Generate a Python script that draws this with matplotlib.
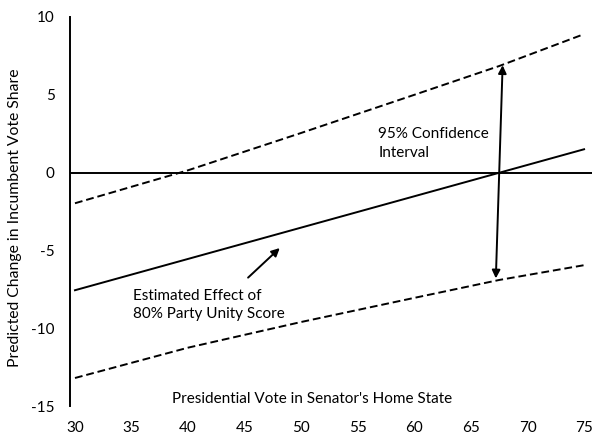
import matplotlib
matplotlib.use("Agg")
import matplotlib.pyplot as plt

# Presidential vote share (x) and predicted change in incumbent vote share (y)
pres_vote = [30, 75]
estimate = [-7.56, 1.5]

# 95% confidence band, read at several vote shares (the band flares outward)
band_x = [30, 40, 50, 60, 67.5, 75]
upper_ci = [-1.97, 0.15, 2.55, 5.0, 6.85, 8.9]
lower_ci = [-13.2, -11.25, -9.6, -8.05, -6.9, -5.95]

x_ticks = [30, 35, 40, 45, 50, 55, 60, 65, 70, 75]
y_ticks = [-15, -10, -5, 0, 5, 10]

# Confidence-interval arrow endpoints where the estimate crosses zero
ci_arrow_x = [67.2, 67.8]
ci_arrow_y = [-6.8, 6.9]

plt.rcParams['font.family'] = ['Lato', 'DejaVu Sans']
plt.rcParams['axes.unicode_minus'] = False

FS = 11

fig = plt.figure(figsize=(5.96, 4.38), dpi=100)
ax = fig.add_axes([70 / 596, 1 - 406 / 438, 522 / 596, 389 / 438])

ax.plot(pres_vote, estimate, color='black', lw=1.4)
ax.plot(band_x, upper_ci, color='black', lw=1.4, ls=(0, (4, 2)))
ax.plot(band_x, lower_ci, color='black', lw=1.4, ls=(0, (4, 2)))
ax.axhline(0, color='black', lw=1.4)

ax.annotate('', xy=(ci_arrow_x[1], ci_arrow_y[1]), xytext=(ci_arrow_x[0], ci_arrow_y[0]),
            arrowprops=dict(arrowstyle='<|-|>', color='black', lw=1.4,
                            mutation_scale=12, shrinkA=0, shrinkB=0))
ax.annotate('', xy=(48.1, -4.85), xytext=(45.3, -6.75),
            arrowprops=dict(arrowstyle='-|>', color='black', lw=1.4,
                            mutation_scale=12, shrinkA=0, shrinkB=0))

ax.text(56.8, 2.95, '95% Confidence\nInterval', fontsize=FS, ha='left', va='top',
        linespacing=1.45)
ax.text(35.1, -7.45, 'Estimated Effect of\n80% Party Unity Score', fontsize=FS,
        ha='left', va='top', linespacing=1.45)

ax.set_xlim(29.56, 75.7)
ax.set_ylim(-15, 10)
ax.set_xticks(x_ticks)
ax.set_yticks(y_ticks)
ax.tick_params(axis='both', length=0, labelsize=FS)
ax.tick_params(axis='x', pad=10.5)
ax.tick_params(axis='y', pad=11)

for side in ('top', 'right', 'bottom'):
    ax.spines[side].set_visible(False)
ax.spines['left'].set_linewidth(1.4)

ax.set_xlabel("Presidential Vote in Senator's Home State", fontsize=FS)
ax.xaxis.set_label_coords(0.463, 0.037)
ax.set_ylabel('Predicted Change in Incumbent Vote Share', fontsize=FS + 0.3)
ax.yaxis.set_label_coords(-0.092, 0.485)

fig.savefig('out.png', dpi=100, facecolor='white')
